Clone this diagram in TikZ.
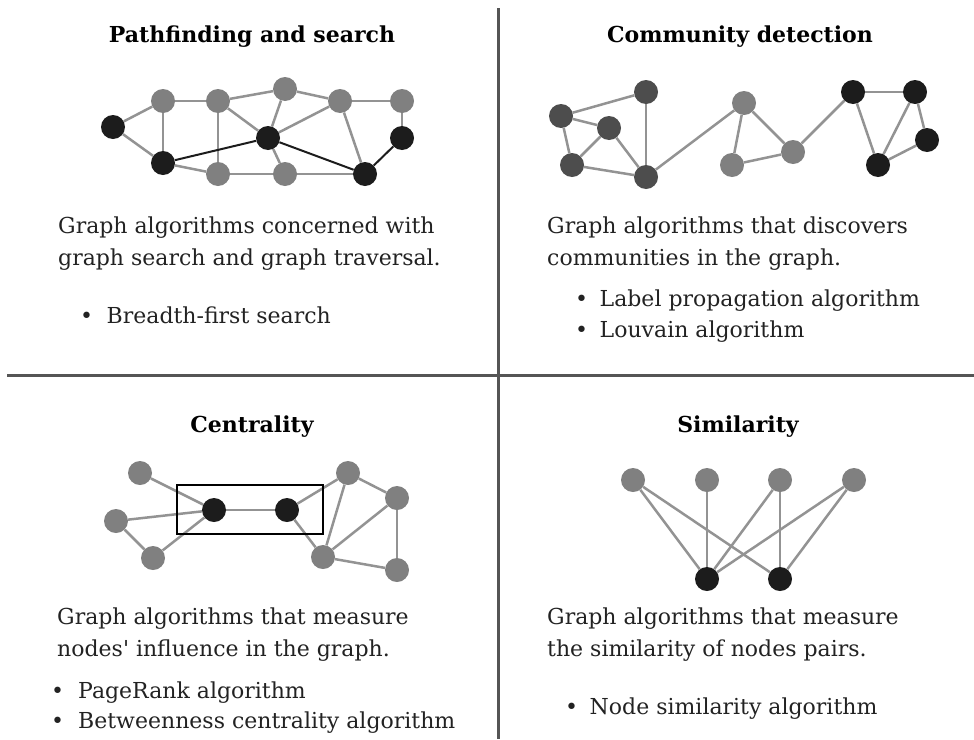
\documentclass[tikz,border=0pt]{standalone}
\usepackage{fontspec}
\setmainfont{DejaVu Serif}
\newfontfamily\plainserif{DejaVu Serif}
\usepackage{xcolor}
\usetikzlibrary{backgrounds}
\definecolor{nodegray}{HTML}{808080}
\definecolor{nodedark}{HTML}{4D4D4D}
\definecolor{nodeblack}{HTML}{1C1C1C}
\definecolor{edgegray}{HTML}{939393}
\definecolor{rulegray}{HTML}{555555}
\definecolor{textblack}{HTML}{222222}
\newcommand{\itm}[2][25pt]{\makebox[#1][l]{\textbullet}#2}

\begin{document}
\begin{tikzpicture}[x=1pt,y=-1pt,
    vtx/.style={circle,inner sep=0pt,minimum size=24pt},
    gv/.style={vtx,fill=nodegray},
    dv/.style={vtx,fill=nodedark},
    bv/.style={vtx,fill=nodeblack},
    ge/.style={draw=edgegray,line width=2.5pt},
    be/.style={draw=nodeblack,line width=2pt},
    txt/.style={anchor=base west,inner sep=0pt,text=textblack,font=\fontsize{22}{26}\selectfont},
    head/.style={anchor=base,inner sep=0pt,text=black,font=\fontsize{22}{26}\selectfont\bfseries}]
	\useasboundingbox (0,0) rectangle (974,739);
	
	% dividers
	\draw[rulegray,line width=3pt] (498,8) -- (498,739);
	\draw[rulegray,line width=3pt] (7,375) -- (974,375);
	
	% headings
	\node[head] (h1) at (252,42) {Pathfinding and search};
	\node[head] (h2) at (740,42) {Community detection};
	\node[head] (h3) at (252,432) {Centrality};
	\node[head] (h4) at (738,432) {Similarity};
	
	% pathfinding graph
	\foreach \n/\x/\y in {b/163/101,c/218/101,d/285/89,e/340/101,f/402/101,j/218/174,k/285/174}
		\node[gv] (\n) at (\x,\y) {};
	\foreach \n/\x/\y in {a/113/127,g/163/163,h/268/138,i/402/138,l/365/174}
		\node[bv] (\n) at (\x,\y) {};
	
	% community graph
	\foreach \n/\x/\y in {ca/561/116,cb/646/92,cc/609/128,cd/572/165,ce/646/177}
		\node[dv] (\n) at (\x,\y) {};
	\foreach \n/\x/\y in {cf/744/103,cg/732/165,ch/793/152}
		\node[gv] (\n) at (\x,\y) {};
	\foreach \n/\x/\y in {ci/853/92,cj/915/92,ck/927/140,cl/878/165}
		\node[bv] (\n) at (\x,\y) {};
	
	% centrality graph
	\foreach \n/\x/\y in {zp/140/473,zq/116/521,zr/153/558,zu/348/473,zv/397/498,zw/323/557,zx/397/570}
		\node[gv] (\n) at (\x,\y) {};
	\node[bv] (zs) at (214,510) {};
	\node[bv] (zt) at (287,510) {};
	\draw[black,line width=1.2pt] (177,485) rectangle (323,534);
	
	% similarity graph
	\foreach \n/\x in {s1/633,s2/707,s3/780,s4/854}
		\node[gv] (\n) at (\x,480) {};
	\node[bv] (t1) at (707,579) {};
	\node[bv] (t2) at (780,579) {};
	
	\begin{scope}[on background layer]
		\foreach \u/\v in {a/b,a/g,b/c,b/g,c/d,c/j,c/h,d/h,d/e,e/f,e/h,e/l,f/i,g/j,j/k,k/l,h/k}
			\draw[ge] (\u) -- (\v);
		\foreach \u/\v in {g/h,h/l,l/i}
			\draw[be] (\u) -- (\v);
		\foreach \u/\v in {ca/cb,ca/cc,ca/cd,cc/cd,cc/ce,cb/ce,cd/ce,ce/cf,cf/cg,cf/ch,cg/ch,ch/ci,ci/cj,ci/cl,cj/cl,cj/ck,ck/cl}
			\draw[ge] (\u) -- (\v);
		\foreach \u/\v in {zp/zs,zq/zs,zr/zs,zq/zr,zs/zt,zt/zu,zt/zw,zu/zv,zu/zw,zv/zw,zv/zx,zw/zx}
			\draw[ge] (\u) -- (\v);
		\foreach \u/\v in {s1/t1,s1/t2,s2/t1,s3/t1,s3/t2,s4/t1,s4/t2}
			\draw[ge] (\u) -- (\v);
	\end{scope}
	
	% texts
	\node[txt] (p1a) at (58,233) {Graph algorithms concerned with};
	\node[txt] (p1b) at (58,265) {graph search and graph traversal.};
	\node[txt] (p1c) at (80,323) {\itm[26.5pt]{Breadth-first search}};
	
	\node[txt] (p2a) at (547,233) {Graph algorithms that discovers};
	\node[txt] (p2b) at (547,265) {communities in the graph.};
	\node[txt] (p2c) at (575,306) {\itm[24.5pt]{Label propagation algorithm}};
	\node[txt] (p2d) at (575,337) {\itm[24.5pt]{Louvain algorithm}};
	
	\node[txt] (p3a) at (57,624) {Graph algorithms that measure};
	\node[txt] (p3b) at (57,656) {nodes{\plainserif '} influence in the graph.};
	\node[txt] (p3c) at (51,698) {\itm[27pt]{PageRank algorithm}};
	\node[txt] (p3d) at (51,728) {\itm[27pt]{Betweenness centrality algorithm}};
	
	\node[txt] (p4a) at (547,624) {Graph algorithms that measure};
	\node[txt] (p4b) at (547,656) {the similarity of nodes pairs.};
	\node[txt] (p4c) at (565,714) {\itm[24.5pt]{Node similarity algorithm}};
\end{tikzpicture}
\end{document}
